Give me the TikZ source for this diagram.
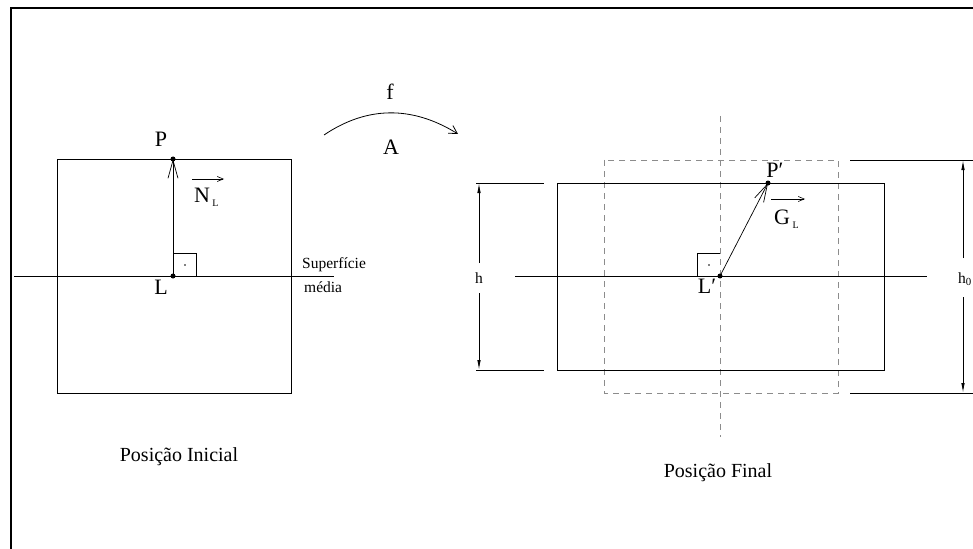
\documentclass[tikz,border=0pt]{standalone}
\usepackage{fontspec}
\setmainfont{Liberation Serif}
\usetikzlibrary{arrows.meta}
\begin{document}
\begin{tikzpicture}[x=1pt,y=-1pt,
  ln/.style={line width=0.9pt},
  dsh/.style={draw=black!45, line width=0.9pt, dash pattern=on 6pt off 5pt},
  lbl/.style={inner sep=0pt, anchor=base, font=\fontsize{22}{26}\selectfont},
  sml/.style={inner sep=0pt, anchor=base west, font=\fontsize{15.5}{18}\selectfont},
  subl/.style={inner sep=0pt, anchor=base west, font=\fontsize{10}{12}\selectfont},
  capt/.style={inner sep=0pt, anchor=base, font=\fontsize{20}{24}\selectfont},
  vecar/.style={line width=0.7pt, -{Straight Barb[length=18pt,width=10pt]}},
  ovec/.style={line width=0.6pt, -{Straight Barb[length=6pt,width=5pt]}},
  dimar/.style={line width=0.9pt, -{Latex[length=10pt,width=3.5pt]}},
  dotn/.style={circle, fill, inner sep=0pt, minimum size=5pt},
]
\useasboundingbox (0,0) rectangle (973,548);
\clip (0,0) rectangle (973,548);
% frame
\draw[line width=1.8pt] (11,8) rectangle (1100,700);

% ---------- initial position ----------
\draw[ln] (57,159) rectangle (291,393);
\coordinate (m1a) at (14,276);
\coordinate (m1b) at (334,276);
\draw[ln] (m1a) -- (m1b);
\node[dotn] (P) at (173,159) {};
\node[dotn] (L) at (173,276) {};
\draw[line width=0.7pt] (173,253) -- (196,253) -- (196,276);
\fill (185,265) circle (0.8pt);
\draw[vecar] (L.center) -- (P.center);
\node[lbl] (Plab) at (161,147) {P};
\node[lbl] (Llab) at (161,294) {L};
\node[lbl, anchor=base west] (NL) at (194,202) {N};
\node[subl] (NLs) at (NL.base east) [xshift=2pt, yshift=-4pt] {L};
\coordinate (nla) at (192,179);
\coordinate (nlb) at (224,179);
\draw[ovec] (nla) -- (nlb);
\node[sml] (sup1) at (302,268) {Superfície};
\node[sml] (sup2) at (304,292) {média};
\node[capt] (cap1) at (179,461) {Posição Inicial};

% ---------- map arrow ----------
\coordinate (ma) at (324,135);
\coordinate (mb) at (458,134);
\draw[line width=0.8pt, -{Straight Barb[length=8pt,width=9pt]}] (ma) .. controls (367,106) and (412,105.5) .. (mb);
\node[lbl] (flab) at (390,100) {f};
\node[lbl] (Alab) at (391,154) {A};

% ---------- final position ----------
\draw[dsh] (604,160) rectangle (838,393);
\coordinate (va) at (720,116);
\coordinate (vb) at (720,437);
\draw[dsh] (va) -- (vb);
\draw[ln] (557,183) rectangle (884,370);
\coordinate (m2a) at (515,276);
\coordinate (m2b) at (927,276);
\draw[ln] (m2a) -- (m2b);
\node[dotn] (Lp) at (720,276) {};
\node[dotn] (Pp) at (768,183) {};
\draw[line width=0.7pt] (697,276) -- (697,253) -- (720,253);
\fill (709,265) circle (0.8pt);
\draw[vecar] (Lp.center) -- (Pp.center);
\node[lbl] (Pplab) at (775,177) {P′};
\node[lbl] (Lplab) at (707,293) {L′};
\node[lbl, anchor=base west] (GL) at (774,224) {G};
\node[subl] (GLs) at (GL.base east) [xshift=2pt, yshift=-4pt] {L};
\coordinate (gla) at (771,199);
\coordinate (glb) at (805,199);
\draw[ovec] (gla) -- (glb);
\node[capt] (cap2) at (718,477) {Posição Final};

% dimension h
\draw[ln] (476,183) -- (544,183);
\draw[ln] (476,370) -- (544,370);
\node[sml, anchor=base] (hlab) at (479,283) {h};
\coordinate (hT) at (479,183);
\coordinate (hB) at (479,370);
\coordinate (hg1) at (479,263);
\coordinate (hg2) at (479,293);
\draw[dimar] (hg1) -- (hT);
\draw[dimar] (hg2) -- (hB);

% dimension h0
\draw[ln] (850,160) -- (990,160);
\draw[ln] (850,393) -- (990,393);
\node[sml, anchor=base east] (h0lab) at (972,283) {h\textsubscript{0}};
\coordinate (h0T) at (963,160);
\coordinate (h0B) at (963,393);
\coordinate (h0g1) at (963,258);
\coordinate (h0g2) at (963,297);
\draw[dimar] (h0g1) -- (h0T);
\draw[dimar] (h0g2) -- (h0B);
\end{tikzpicture}
\end{document}
